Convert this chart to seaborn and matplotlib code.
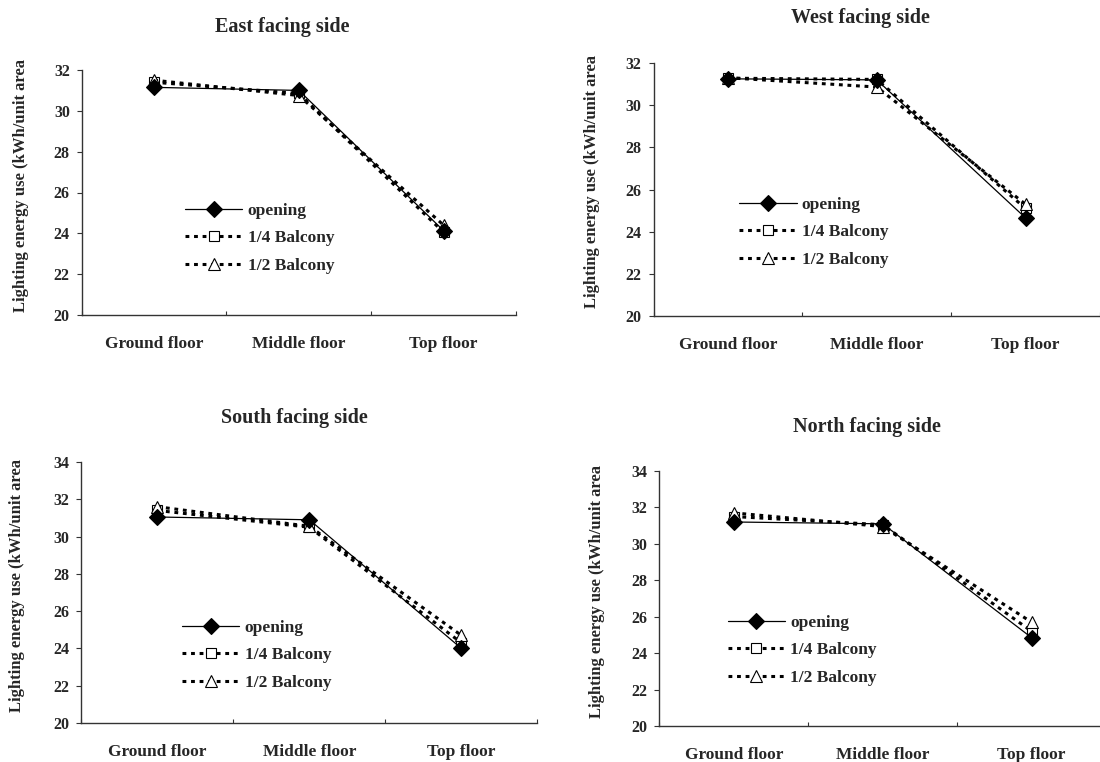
import numpy as np
import pandas as pd
import seaborn as sns
import matplotlib.pyplot as plt

floors = ['Ground floor', 'Middle floor', 'Top floor']
series = ['opening', '1/4 Balcony', '1/2 Balcony']

east_opening = [31.15, 31.0, 24.13]
east_quarter = [31.4, 30.85, 24.05]
east_half = [31.5, 30.75, 24.4]

west_opening = [31.25, 31.2, 24.65]
west_quarter = [31.28, 31.22, 25.1]
west_half = [31.3, 30.86, 25.3]

south_opening = [31.05, 30.9, 24.0]
south_quarter = [31.4, 30.5, 24.3]
south_half = [31.6, 30.55, 24.7]

north_opening = [31.2, 31.1, 24.85]
north_quarter = [31.5, 31.05, 25.2]
north_half = [31.7, 30.95, 25.7]

sns.set_style('white')
plt.rcParams['font.family'] = ['Liberation Serif', 'DejaVu Serif']
plt.rcParams['font.weight'] = 'bold'

W, H = 1100, 762
fig = plt.figure(figsize=(W / 100, H / 100), dpi=100)

# box = (left, top, right, bottom) in pixels
panels = [
    dict(title='East facing side', vals=[east_opening, east_quarter, east_half],
         box=(81.7, 70, 516, 315), ytop=32, title_xy=(282, 27),
         ylab_xy=(21, 185), leg=(0.238, 0.458)),
    dict(title='West facing side', vals=[west_opening, west_quarter, west_half],
         box=(653.5, 63, 1100, 316), ytop=32, title_xy=(860, 18),
         ylab_xy=(592, 181), leg=(0.192, 0.471)),
    dict(title='South facing side', vals=[south_opening, south_quarter, south_half],
         box=(81.4, 462, 537.4, 723), ytop=34, title_xy=(294, 418),
         ylab_xy=(17.5, 585), leg=(0.221, 0.395)),
    dict(title='North facing side', vals=[north_opening, north_quarter, north_half],
         box=(659.4, 471, 1106, 726), ytop=34, title_xy=(867, 427),
         ylab_xy=(597, 591), leg=(0.153, 0.436)),
]

dots = (0, (1.25, 1.55))
styles = {
    'opening': dict(color='black', linewidth=0.9, linestyle='-', marker='D',
                    markersize=8, markerfacecolor='black',
                    markeredgecolor='black', markeredgewidth=0.8, zorder=5),
    '1/4 Balcony': dict(color='black', linewidth=2.2, linestyle=dots,
                        marker='s', markersize=7.5, markerfacecolor='white',
                        markeredgecolor='black', markeredgewidth=0.8, zorder=3),
    '1/2 Balcony': dict(color='black', linewidth=2.2, linestyle=dots,
                        marker='^', markersize=9, markerfacecolor='white',
                        markeredgecolor='black', markeredgewidth=0.8, zorder=4),
}

for p in panels:
    l, t, r, b = p['box']
    ax = fig.add_axes([l / W, 1 - b / H, (r - l) / W, (b - t) / H])
    for name, vals in zip(series, p['vals']):
        df = pd.DataFrame({'floor': floors, 'value': vals})
        sns.lineplot(data=df, x='floor', y='value', ax=ax, label=name,
                     sort=False, **styles[name])

    ax.set_xlim(-0.5, 2.5)
    ax.set_ylim(20, p['ytop'])
    ax.set_yticks(np.arange(20, p['ytop'] + 1, 2))
    ax.set_xticks([-0.5, 0.5, 1.5, 2.5])
    ax.set_xticklabels([])
    ax.set_xticks(range(len(floors)), floors, minor=True)
    ax.set_xlabel('')
    ax.set_ylabel('')
    for s in ['top', 'right']:
        ax.spines[s].set_visible(False)
    for s in ['left', 'bottom']:
        ax.spines[s].set_color('#333333')
        ax.spines[s].set_linewidth(1.0)

    ax.tick_params(axis='y', direction='out', length=3.6, width=0.8,
                   color='#333333', labelsize=11.5, pad=5, left=True)
    ax.tick_params(axis='x', which='major', direction='in', length=3,
                   width=0.8, color='#333333', bottom=True)
    ax.tick_params(axis='x', which='minor', length=0, pad=15, labelsize=12.5)
    for lab in ax.get_xticklabels(minor=True) + ax.get_yticklabels():
        lab.set_fontweight('bold')

    ax.legend(loc='upper left', bbox_to_anchor=p['leg'], frameon=False,
              fontsize=12.5, handlelength=3.3, handletextpad=0.3,
              labelspacing=0.65, borderpad=0, borderaxespad=0)

    tx, ty = p['title_xy']
    fig.text(tx / W, 1 - ty / H, p['title'], ha='center', va='center',
             fontsize=14.5, fontweight='bold')
    yx, yy = p['ylab_xy']
    fig.text(yx / W, 1 - yy / H, 'Lighting energy use (kWh/unit area',
             rotation=90, ha='center', va='center', fontsize=12,
             fontweight='bold')

fig.savefig('out.png', dpi=100)
